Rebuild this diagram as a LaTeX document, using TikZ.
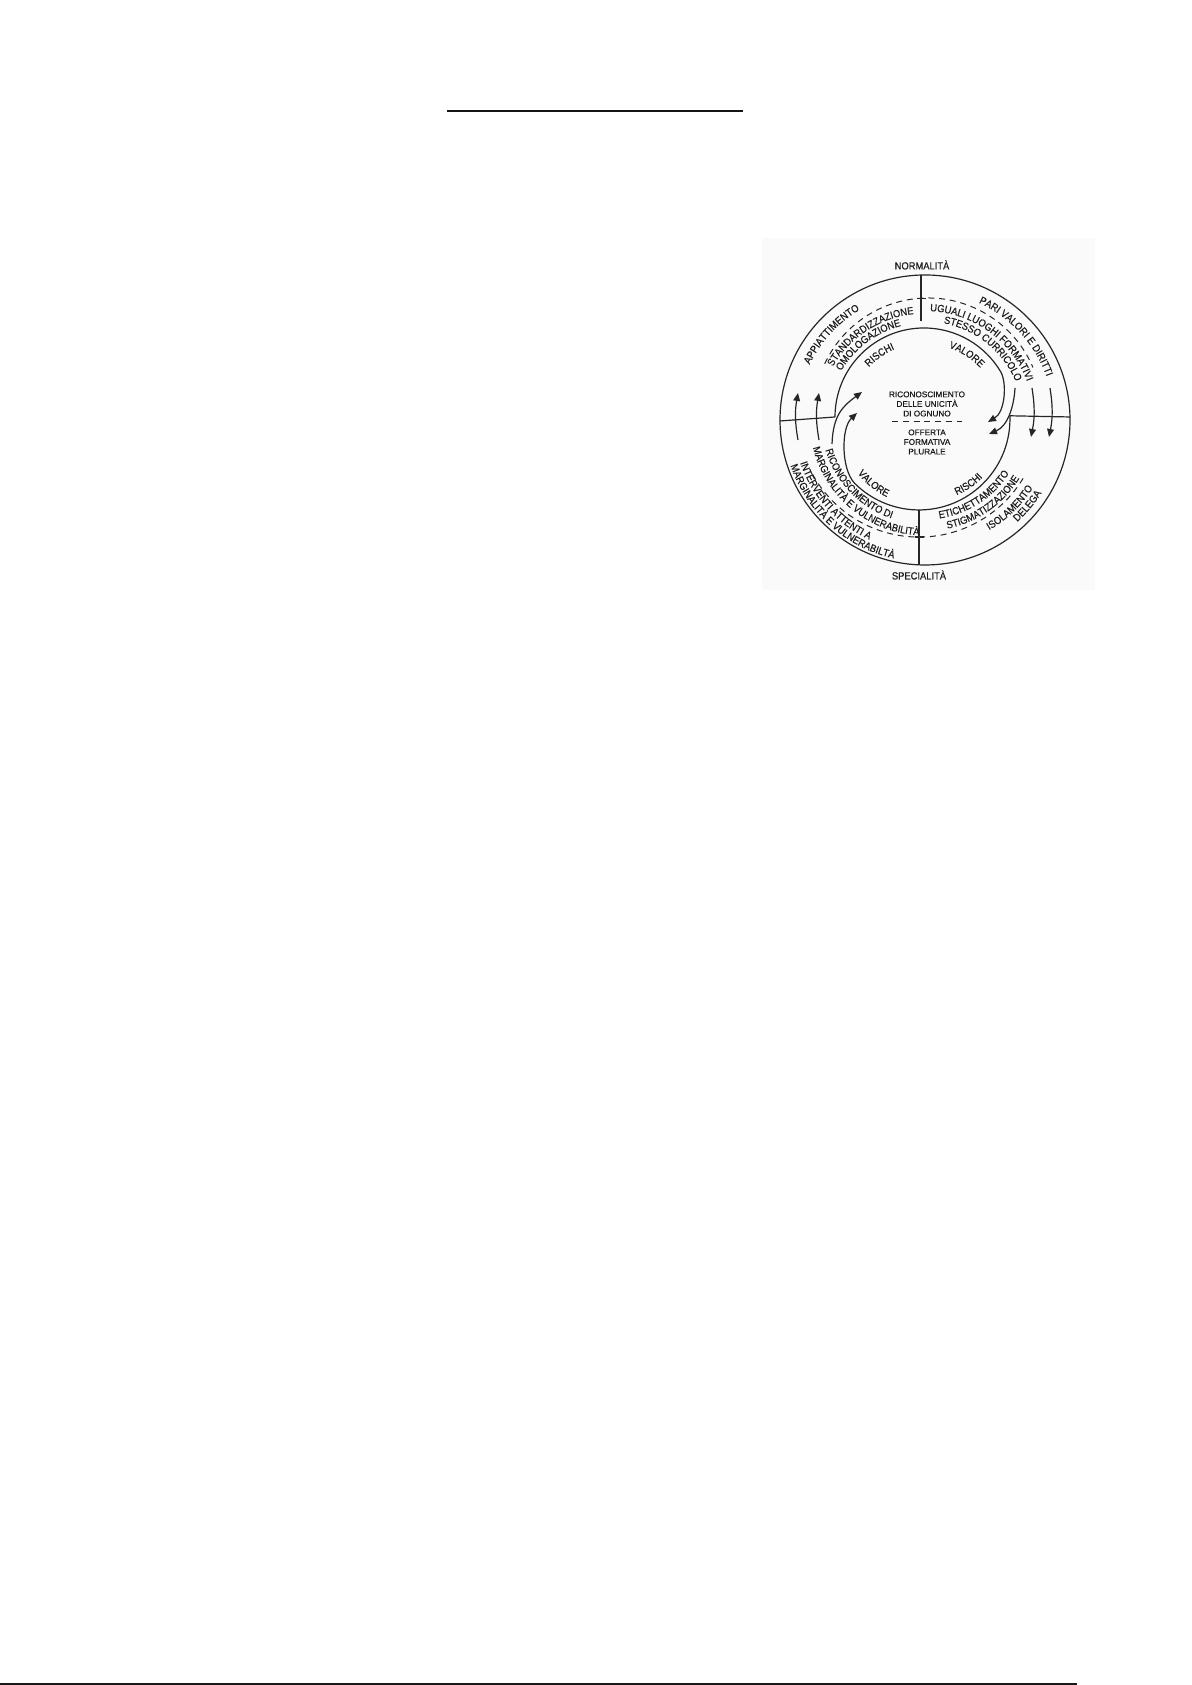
\documentclass[tikz,border=0pt]{standalone}
\usepackage{fontspec}
\usetikzlibrary{decorations.text,arrows.meta}
\newfontfamily\lsans[FakeStretch=0.9,FakeBold=0.35]{Liberation Sans}
\newfontfamily\csans[FakeBold=0.3]{Liberation Sans}
\newcommand\arcf{\lsans\fontsize{5.2}{6.2}\selectfont}
\newcommand\ctrf{\csans\fontsize{4.1}{4.8}\selectfont}
\definecolor{ink}{HTML}{262626}
\definecolor{tink}{HTML}{1C1C1C}
\definecolor{scan}{HTML}{FAFAFA}
\newcommand\arcup[3]{\path[decorate,decoration={text along path,text align=center,text={|\arcf\color{tink}|#3}}] ({#1+55}:#2) arc[start angle={#1+55}, end angle={#1-55}, radius=#2];}
\newcommand\arclow[3]{\path[decorate,decoration={text along path,text align=center,text={|\arcf\color{tink}|#3}}] ({#1-55}:#2) arc[start angle={#1-55}, end angle={#1+55}, radius=#2];}
\tikzset{
  lin/.style={draw=ink, line width=0.6pt},
  dsh/.style={draw=ink, line width=0.5pt, dash pattern=on 3pt off 2.4pt},
  arr/.style={lin, -{Triangle[length=4pt,width=3.4pt]}},
  lbl/.style={font=\arcf, text=tink, inner sep=0pt},
  ctr/.style={font=\ctrf, text=tink, inner sep=0pt, align=center}
}
\begin{document}
\begin{tikzpicture}[x=0.5pt,y=0.5pt]
\useasboundingbox (0,0) rectangle (1192,1685);
\fill[white] (0,0) rectangle (1192,1685);
% page rules
\coordinate (tl) at (447,1574); \coordinate (tr) at (743,1574);
\draw[line width=0.6pt, black!92] (tl) -- (tr);
\coordinate (bl) at (0,1); \coordinate (br) at (1077,1);
\draw[line width=1pt, black!90] (bl) -- (br);
% scanned picture background
\fill[scan] (762,1095) rectangle (1095,1447);
\begin{scope}[shift={(925,1265)}]
  % circles and dividers
  \draw[lin] (0,0) circle[radius=145];
  \coordinate (jL) at (-90,3);
  \coordinate (jR) at (84.9,4.2);
  \coordinate (oL) at (-145,-1);
  \coordinate (oR) at (145,3);
  \draw[lin] (oL) -- (jL);
  \draw[lin] (jR) -- (oR);
  \coordinate (vt1) at (-4,99); \coordinate (vt2) at (-4,144.9);
  \coordinate (vb1) at (-6,-90); \coordinate (vb2) at (-6,-144.9);
  \draw[lin] (vt1) -- (vt2);
  \draw[lin] (vb1) -- (vb2);
  % dashed arcs
  \draw[dsh] (3,8) ++(155:114) arc[start angle=155, end angle=23, radius=114];
  \draw[dsh] (-6,4.5) ++(209:121.6) arc[start angle=209, end angle=329, radius=121.6];
  \draw[lin] (-8.5,121.8) -- (0.5,121.8);
  \draw[lin] (-10.5,-117.1) -- (-1.5,-117.1);
  % inner arcs with arrows
  \draw[arr] (jL) arc[start angle=180, end angle=30, radius=89] .. controls (82,36) and (80,8) .. (63,-2);
  \draw[arr] (90,32) .. controls (89,14) and (83,-6) .. (64,-14);
  \draw[arr] (jR) arc[start angle=2, end angle=-135, radius=91] .. controls (-84,-49) and (-84,-8) .. (-68,7);
  \draw[arr] (-93,-24) .. controls (-92,5) and (-82,14) .. (-63,28);
  % outer ring arrows
  \coordinate (la1) at (-127,-20); \coordinate (la1t) at (-127,27);
  \coordinate (la2) at (-106,-20); \coordinate (la2t) at (-106,27);
  \coordinate (ra1) at (107,32); \coordinate (ra1t) at (106,-17);
  \coordinate (ra2) at (125,32); \coordinate (ra2t) at (124,-17);
  \draw[arr] (la1) to[bend left=10] (la1t);
  \draw[arr] (la2) to[bend left=10] (la2t);
  \draw[arr] (ra1) to[bend left=10] (ra1t);
  \draw[arr] (ra2) to[bend left=10] (ra2t);
  % centre
  \node[ctr] (ric) at (2,16) {RICONOSCIMENTO\\DELLE UNICITÀ\\DI OGNUNO};
  \coordinate (cd1) at (-33,-2); \coordinate (cd2) at (37,-2);
  \draw[dsh] (cd1) -- (cd2);
  \node[ctr] (off) at (2,-22) {OFFERTA\\FORMATIVA\\PLURALE};
  % pole labels
  \node[lbl, anchor=base] (norm) at (-3,150.5) {NORMALITÀ};
  \node[lbl, anchor=base] (spec) at (-6,-159.5) {SPECIALITÀ};
  % upper texts
  \arcup{137.5}{128}{APPIATTIMENTO}
  \arcup{42.5}{129}{PARI VALORI E DIRITTI}
  \arcup{123}{106.5}{STANDARDIZZAZIONE}
  \arcup{127}{97}{OMOLOGAZIONE}
  \arcup{54}{109}{UGUALI LUOGHI FORMATIVI}
  \arcup{51}{98.5}{STESSO CURRICOLO}
  \arcup{125}{77}{RISCHI}
  \arcup{57.5}{76}{VALORE}
  % lower texts
  \arclow{224}{104}{RICONOSCIMENTO DI}
  \arclow{230.5}{115.5}{MARGINALITÀ E VULNERABILITÀ}
  \arclow{222}{132}{INTERVENTI ATTENTI A}
  \arclow{228}{142}{MARGINALITÀ E VULNERABILTÀ}
  \arclow{231}{86}{VALORE}
  \arclow{304}{81.5}{RISCHI}
  \arclow{303}{99.5}{ETICHETTAMENTO}
  \arclow{305}{111}{STIGMATIZZAZIONE}
  \arclow{314}{127.5}{ISOLAMENTO}
  \arclow{320}{137.5}{DELEGA}
\end{scope}
\end{tikzpicture}
\end{document}
